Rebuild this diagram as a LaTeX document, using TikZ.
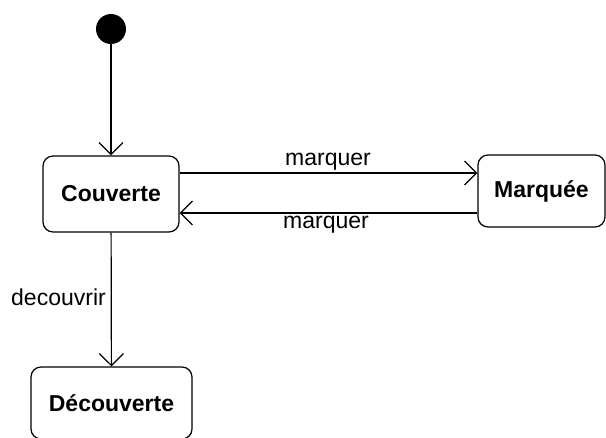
\documentclass[tikz,border=0pt]{standalone}
\usepackage{fontspec}
\setmainfont{Liberation Sans}
\usetikzlibrary{arrows.meta}
\begin{document}
\begin{tikzpicture}[x=1pt,y=-1pt,
  state/.style={draw, line width=1.2pt, rounded corners=10pt, font=\fontsize{23}{26}\selectfont\bfseries, inner sep=0pt},
  trans/.style={draw, line width=1.2pt, -{Straight Barb[length=12pt,width=24pt,line width=1.2pt]}},
  lbl/.style={font=\fontsize{23}{26}\selectfont, inner sep=0pt}]
  \useasboundingbox (0,0) rectangle (606,438);
  \clip (0,0) rectangle (606,438);
  % initial pseudo-state
  \node[circle, fill=black, minimum size=30pt, inner sep=0pt] (init) at (111,29) {};
  % states
  \node[state, minimum width=136pt, minimum height=76pt] (couv) at (111,194) {Couverte};
  \node[state, minimum width=127pt, minimum height=72pt] (marq) at (541.5,191) {Marquée};
  \node[state, minimum width=161pt, minimum height=72pt] (dec) at (111.5,403) {Découverte};
  % transitions
  \draw[trans] (init) -- (couv);
  \draw[trans] (couv.east |- 0,173) -- (marq.west |- 0,173);
  \draw[trans] (marq.west |- 0,213) -- (couv.east |- 0,213);
  \draw[trans] (couv) -- (dec);
  % labels
  \node[lbl] (l1) at (328,162) {marquer};
  \node[lbl] (l2) at (326,225) {marquer};
  \node[lbl, anchor=east] (l3) at (106,297) {decouvrir};
\end{tikzpicture}
\end{document}
